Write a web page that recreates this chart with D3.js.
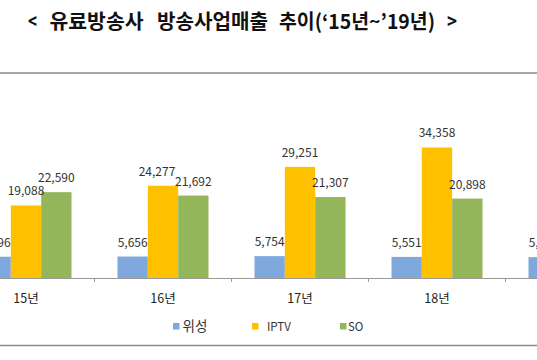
<!DOCTYPE html>
<html><head><meta charset="utf-8">
<script src="https://cdn.jsdelivr.net/npm/d3@7"></script>
<style>
html,body{margin:0;padding:0;background:#fff;}
svg{display:block;font-family:"Noto Sans CJK KR","Noto Sans",sans-serif;}
</style></head>
<body>
<svg id="c" width="537" height="360"></svg>
<script>
const titleParts = ["<", "유료방송사", "방송사업매출", "추이(‘15년~’19년)", ">"];
const categories = ["15년","16년","17년","18년","19년"];
const seriesNames = ["위성","IPTV","SO"];
const satellite = [5596, 5656, 5754, 5551, 5484];
const iptv = [19088, 24277, 29251, 34358, null];
const so = [22590, 21692, 21307, 20898, null];
const colors = ["#7FA8DC","#FFC000","#93B65A"];
const labelShift = [[0,0,0],[0,-6,0],[0,0,0],[0,0,0],[0,0,0]];

const seriesValues = [satellite, iptv, so];
const data = categories.map((c,i)=>({cat:c, vals: seriesNames.map((s,j)=>({key:s, j, v: seriesValues[j][i], dx: labelShift[i][j]})).filter(d=>d.v!=null)}));

const svg = d3.select("#c");
const W = 537, H = 360;
const baseY = 278;

const x0 = d3.scaleBand().domain(categories).range([-42.5, 642.5]).paddingInner(0).paddingOuter(0);
const x1 = d3.scaleBand().domain(seriesNames).range([0, x0.bandwidth()]).paddingInner(0).paddingOuter(0.758);
const y = d3.scaleLinear().domain([0, 40000]).range([baseY, 126]);
const color = d3.scaleOrdinal().domain(seriesNames).range(colors);

// frame lines
svg.append("line").attr("x1",0).attr("x2",W).attr("y1",73).attr("y2",73).attr("stroke","#8a8a8a").attr("stroke-width",1.6);
svg.append("line").attr("x1",0).attr("x2",W).attr("y1",345.5).attr("y2",345.5).attr("stroke","#8a8a8a").attr("stroke-width",1.6);

// title
const titleX = [28, 49.5, 157, 279, 447];
const titleW = [9, 94, 111, 156, 10];
svg.append("g").selectAll("text").data(titleParts).join("text")
  .attr("x",(d,i)=>titleX[i]).attr("y",28.5).attr("font-size",20).attr("font-weight","bold").attr("fill","#111")
  .attr("textLength",(d,i)=>titleW[i]).attr("lengthAdjust","spacingAndGlyphs")
  .text(d=>d);

// bars
const g = svg.append("g").selectAll("g").data(data).join("g").attr("transform",d=>`translate(${x0(d.cat)},0)`);
g.selectAll("rect").data(d=>d.vals).join("rect")
  .attr("x",d=>x1(d.key)).attr("width",x1.bandwidth())
  .attr("y",d=>y(d.v)).attr("height",d=>baseY-y(d.v))
  .attr("fill",d=>color(d.key));
g.selectAll("text").data(d=>d.vals).join("text")
  .attr("x",d=>x1(d.key)+x1.bandwidth()/2+d.dx).attr("y",d=>y(d.v)-10)
  .attr("text-anchor","middle").attr("font-size",12).attr("fill","#333")
  .text(d=>d3.format(",")(d.v));

// axis
const axis = d3.axisBottom(x0).tickSize(0).tickPadding(16);
const ax = svg.append("g").attr("transform",`translate(0,${baseY})`).call(axis);
ax.select(".domain").remove();
ax.selectAll("text").attr("font-size",12.5).attr("fill","#222").attr("font-family","\"Noto Sans CJK KR\",sans-serif");
svg.append("line").attr("x1",0).attr("x2",W).attr("y1",baseY+0.5).attr("y2",baseY+0.5).attr("stroke","#9a9a9a").attr("stroke-width",1);
svg.append("g").selectAll("line").data(categories).join("line")
  .attr("x1",d=>x0(d)).attr("x2",d=>x0(d)).attr("y1",baseY).attr("y2",baseY+4)
  .attr("stroke","#9a9a9a").attr("stroke-width",1);

// legend
const legendX = [173, 252, 340];
const legendTextX = [182.5, 267, 348];
const lg = svg.append("g").selectAll("g").data(seriesNames).join("g");
lg.append("rect").attr("x",(d,i)=>legendX[i]).attr("y",323).attr("width",6.5).attr("height",6.5).attr("fill",d=>color(d));
lg.append("text").attr("x",(d,i)=>legendTextX[i]).attr("y",330.5)
  .attr("font-size",(d,i)=>i===0?13.5:11.5).attr("fill","#333").text(d=>d);
</script>
</body></html>
